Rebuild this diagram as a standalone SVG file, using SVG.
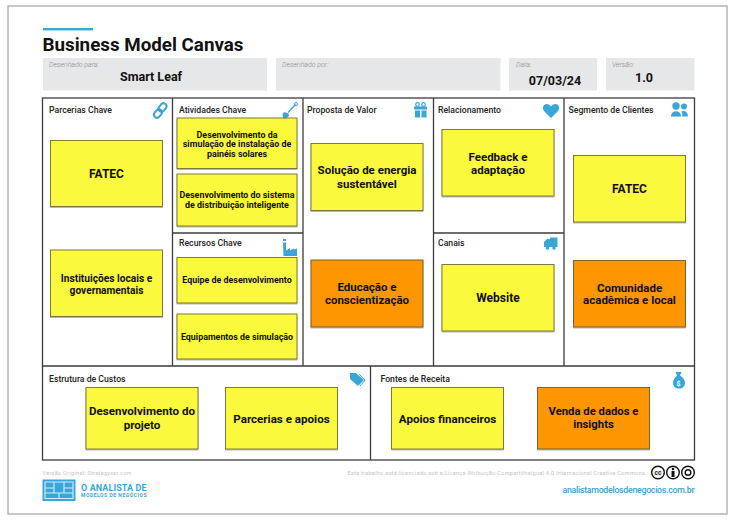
<svg xmlns="http://www.w3.org/2000/svg" width="735" height="525" viewBox="0 0 735 525">
<defs>
<filter id="ns" x="-5%" y="-5%" width="110%" height="110%"><feDropShadow dx="0" dy="1" stdDeviation="0.7" flood-color="#000" flood-opacity="0.3"/></filter>
</defs>
<style>
text{font-family:Roboto,"Liberation Sans",sans-serif}
.field{fill:#e6e7e8}
.fl{font-size:7px;font-style:italic;fill:#8a8a8a;font-weight:300}
.fv{font-size:12.5px;font-weight:700;fill:#111;text-anchor:middle}
.head{font-size:8.700px;font-weight:500;fill:#222}
.y{fill:#fbf93c;stroke:#6f6d35;stroke-width:.9;filter:url(#ns)}
.o{fill:#fd9600;stroke:#6f5a30;stroke-width:.9;filter:url(#ns)}
.t{font-weight:700;fill:#111;text-anchor:middle}
.b{font-size:11.600px}
.m{font-size:8.900px}
.ic{fill:#3aa5d8}
.grid{fill:none;stroke:#3c3c3c;stroke-width:1.3}
.foot{font-size:5.600px;fill:#c4c4c4}
</style>
<g id="page">
<rect x="8" y="6" width="719" height="508" fill="#fff" stroke="#a3a3a3" stroke-width="1.2"/>
<rect x="43" y="28" width="50" height="2.400" fill="#3aa5d8"/>
<text x="42.500" y="50.500" font-size="19" font-weight="700" fill="#111" textLength="201" lengthAdjust="spacingAndGlyphs">Business Model Canvas</text>
</g>
<g id="field-para"><rect class="field" x="43" y="58" width="224" height="32.500"/><text class="fl" x="49" y="67">Desenhado para:</text><text class="fv" x="151" y="81">Smart Leaf</text></g>
<g id="field-por"><rect class="field" x="276" y="58" width="224.500" height="32.500"/><text class="fl" x="282" y="67">Desenhado por:</text></g>
<g id="field-data"><rect class="field" x="509" y="58" width="88" height="32.500"/><text class="fl" x="516" y="67">Data:</text><text class="fv" x="555" y="85">07/03/24</text></g>
<g id="field-versao"><rect class="field" x="606" y="58" width="88.500" height="32.500"/><text class="fl" x="612" y="67">Versão:</text><text class="fv" x="644" y="81.500">1.0</text></g>
<g id="connectors">
<rect class="grid" x="42.500" y="98" width="652" height="362"/>
<path class="grid" d="M172.500 98V366M303 98V366M433.500 98V366M564 98V366M42.500 366H694.500M172.500 233H303M433.500 233H564M370.500 366V460"/>
</g>
<g id="parcerias">
<text class="head" x="49" y="113">Parcerias Chave</text>
<g fill="none" stroke="#3aa5d8" stroke-width="2"><rect x="159.500" y="103" width="6" height="9" rx="3" transform="rotate(40 162.500 107.500)"/><rect x="155" y="109" width="6" height="9" rx="3" transform="rotate(40 158 113.500)"/></g>
<rect class="y" x="50.500" y="140.500" width="112" height="66"/><text class="t" font-size="12" x="106.500" y="177.500">FATEC</text>
<rect class="y" x="50.500" y="250" width="112" height="66.500"/><text class="t" font-size="10.200" x="106.500" y="281.500"><tspan x="106.500">Instituições locais e</tspan><tspan x="106.500" dy="12">governamentais</tspan></text>
</g>
<g id="atividades">
<text class="head" x="179" y="113">Atividades Chave</text>
<path d="M295.500 104.500L288 112.500" stroke="#3aa5d8" stroke-width="1.300" fill="none"/><circle cx="296" cy="104" r="1.500" fill="none" stroke="#3aa5d8"/><path class="ic" d="M284 112l4.500 1.500 .5 2.500-3 2.500-3-.5-.5-3.500z"/>
<rect class="y" x="177" y="118" width="120" height="50.500"/><text class="t m" x="237" y="137.500"><tspan x="237">Desenvolvimento da</tspan><tspan x="237" dy="9.500">simulação de instalação de</tspan><tspan x="237" dy="9.500">painéis solares</tspan></text>
<rect class="y" x="177" y="174" width="120" height="52"/><text class="t m" x="237" y="198"><tspan x="237">Desenvolvimento do sistema</tspan><tspan x="237" dy="10">de distribuição inteligente</tspan></text>
</g>
<g id="recursos">
<text class="head" x="179" y="246">Recursos Chave</text>
<path class="ic" d="M283 239h3v2h-3zM283 242.500h3v8l4-2.500v2.500l3.500-2 .5 1 3-1v7.500h-13.500z"/>
<rect class="y" x="177" y="257.500" width="120" height="45.500"/><text class="t m" x="237" y="283">Equipe de desenvolvimento</text>
<rect class="y" x="177" y="314" width="120" height="45"/><text class="t m" x="237" y="340">Equipamentos de simulação</text>
</g>
<g id="proposta">
<text class="head" x="307" y="113">Proposta de Valor</text>
<path class="ic" d="M414 106.500h13v3h-13zM415 110.500h5v7h-5zM421.500 110.500h5v7h-5z"/><circle cx="417.500" cy="104.500" r="1.800" fill="none" stroke="#3aa5d8" stroke-width="1.200"/><circle cx="423.500" cy="104.500" r="1.800" fill="none" stroke="#3aa5d8" stroke-width="1.200"/>
<rect class="y" x="311" y="143.500" width="112" height="67"/><text class="t" font-size="11.500" x="367" y="174"><tspan x="367">Solução de energia</tspan><tspan x="367" dy="13.500">sustentável</tspan></text>
<rect class="o" x="311" y="260" width="112" height="67"/><text class="t" font-size="11.500" x="367" y="291"><tspan x="367">Educação e</tspan><tspan x="367" dy="13">conscientização</tspan></text>
</g>
<g id="relacionamento">
<text class="head" x="438" y="113">Relacionamento</text>
<path class="ic" d="M551 118l-7-7c-2.500-3-.5-7 2.500-7 2 0 3.500 1 4.500 2.500 1-1.500 2.500-2.500 4.500-2.500 3 0 5 4 2.500 7z"/>
<rect class="y" x="442" y="129.500" width="112" height="66.500"/><text class="t" font-size="11.500" x="498" y="161"><tspan x="498">Feedback e</tspan><tspan x="498" dy="12.500">adaptação</tspan></text>
</g>
<g id="canais">
<text class="head" x="438" y="246">Canais</text>
<path class="ic" d="M544 242l3-3h3v-1.500h7.500v9.500h-13.500z"/><circle class="ic" cx="547.500" cy="248" r="1.800"/><circle class="ic" cx="554" cy="248" r="1.800"/>
<rect class="y" x="442" y="264.500" width="112" height="66.500"/><text class="t" font-size="12" x="498" y="302">Website</text>
</g>
<g id="segmento">
<text class="head" x="568.500" y="113">Segmento de Clientes</text>
<circle class="ic" cx="676" cy="106" r="3.700"/><circle class="ic" cx="684" cy="106.500" r="3"/><path class="ic" d="M671 116.500c0-7 10-7 10 0zM682 116.500c1-3 0-4-1-5 3-1.500 7 0 7 5z"/>
<rect class="y" x="573.500" y="155.500" width="112" height="66.500"/><text class="t" font-size="12" x="629.500" y="192.500">FATEC</text>
<rect class="o" x="573.500" y="260.500" width="112" height="66.500"/><text class="t" font-size="11.500" x="629.500" y="291.500"><tspan x="629.500">Comunidade</tspan><tspan x="629.500" dy="12.500">acadêmica e local</tspan></text>
</g>
<g id="custos">
<text class="head" x="49" y="382">Estrutura de Custos</text>
<path class="ic" d="M350 373h6l8 7-6 6-8-7z"/><path d="M359 374l6 6-5 6" fill="none" stroke="#3aa5d8" stroke-width="1"/>
<rect class="y" x="86" y="387.500" width="112" height="61.500"/><text class="t b" x="142" y="415"><tspan x="142">Desenvolvimento do</tspan><tspan x="142" dy="13.500">projeto</tspan></text>
<rect class="y" x="225.500" y="387.500" width="112" height="61.500"/><text class="t b" x="281.500" y="422.500">Parcerias e apoios</text>
</g>
<g id="receita">
<text class="head" x="380.500" y="382">Fontes de Receita</text>
<path class="ic" d="M675.500 372h6l-1.500 3.500c3 1.500 5 4.500 5 7.500 0 3.500-2.500 5.500-6 5.500s-6-2-6-5.500c0-3 2-6 4-7.500z"/><text x="678.500" y="385.500" font-size="7" font-weight="700" fill="#fff" text-anchor="middle">$</text>
<rect class="y" x="391.500" y="387.500" width="112" height="61.500"/><text class="t b" x="447.500" y="422.500">Apoios financeiros</text>
<rect class="o" x="537.500" y="387.500" width="112" height="61.500"/><text class="t" font-size="11.300" x="593.500" y="415"><tspan x="593.500">Venda de dados e</tspan><tspan x="593.500" dy="13">insights</tspan></text>
</g>
<g id="footer">
<text class="foot" x="42.500" y="474.500" textLength="89">Versão Original: Strategyzer.com</text>
<g id="logo"><rect class="ic" x="42.500" y="479.500" width="33" height="21.500"/><path d="M45 482h28v16.500H45zM54 482v11M64 482v11M45 493h28M59 493v5.500M45 488h9M64 488h9" fill="none" stroke="#d5eef9" stroke-width="1.100"/></g>
<text x="81" y="490.500" font-size="9" font-weight="700" fill="#3aa5d8" textLength="65.500">O ANALISTA DE</text>
<text x="81" y="497" font-size="5" font-weight="700" fill="#3aa5d8" textLength="65.500">MODELOS DE NEGÓCIOS</text>
<text class="foot" x="347.500" y="474.500" textLength="299">Este trabalho está licenciado sob a Licença Atribuição-CompartilhaIgual 4.0 Internacional Creative Commons.</text>
<g fill="none" stroke="#111" stroke-width="1.400"><circle cx="658" cy="472.500" r="6.300"/><circle cx="673" cy="472.500" r="6.300"/><circle cx="688" cy="472.500" r="6.300"/><circle cx="688" cy="472.500" r="2.800"/></g>
<text x="658" y="475" font-size="6.500" font-weight="700" fill="#111" text-anchor="middle">cc</text>
<circle cx="673" cy="469" r="1.300" fill="#111"/><rect x="671.500" y="471" width="3" height="6" fill="#111"/>
<text x="694.500" y="492.500" font-size="8.800" font-weight="500" fill="#3f9fca" text-anchor="end" textLength="132">analistamodelosdenegocios.com.br</text>
</g>
</svg>
